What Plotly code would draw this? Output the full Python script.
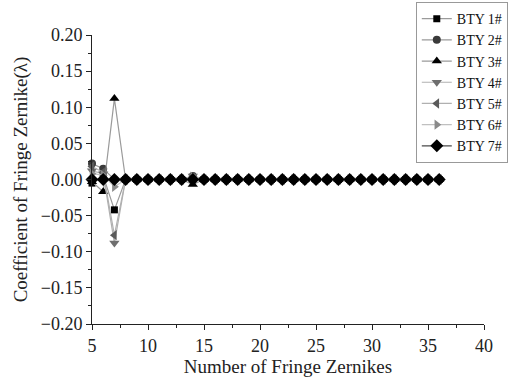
import plotly.graph_objects as go

x = list(range(5, 37))
n = len(x)

def series(head, x14):
    v = [0.0] * n
    for i, val in enumerate(head):
        v[i] = val
    v[14 - 5] = x14
    return v

names = ["BTY 1#", "BTY 2#", "BTY 3#", "BTY 4#", "BTY 5#", "BTY 6#", "BTY 7#"]
bty1 = series([-0.005, 0.005, -0.042], 0.0)
bty2 = series([0.022, 0.015, 0.0], 0.005)
bty3 = series([-0.003, -0.017, 0.112], -0.007)
bty4 = series([0.012, 0.008, -0.088], 0.005)
bty5 = series([0.018, 0.010, -0.077], 0.003)
bty6 = series([0.008, 0.006, -0.010], 0.004)
bty7 = [0.0] * n
values = [bty1, bty2, bty3, bty4, bty5, bty6, bty7]

symbols = ["square", "circle", "triangle-up", "triangle-down", "triangle-left", "triangle-right", "diamond"]
mcolors = ["#000000", "#3a3a3a", "#000000", "#6e6e6e", "#5a5a5a", "#8a8a8a", "#000000"]
msizes = [7, 8, 9, 9, 9, 9, 10]
lcolors = ["#9a9a9a", "#9a9a9a", "#9a9a9a", "#b0b0b0", "#b0b0b0", "#c0c0c0", "#4a4a4a"]

fig = go.Figure()
for nm, v, s, mc, ms, lc in zip(names, values, symbols, mcolors, msizes, lcolors):
    fig.add_trace(go.Scatter(
        x=x, y=v, name=nm, mode="lines+markers", cliponaxis=False,
        line=dict(color=lc, width=1.2),
        marker=dict(symbol=s, color=mc, size=ms, line=dict(width=0)),
    ))

font = "Liberation Serif, Times New Roman, serif"
fig.update_layout(
    width=508, height=381,
    margin=dict(l=92, r=24, t=35, b=57, autoexpand=False),
    paper_bgcolor="white", plot_bgcolor="white",
    font=dict(family=font, size=17, color="#222"),
    legend=dict(
        x=0.826, y=1.114, xanchor="left", yanchor="top",
        bordercolor="#999", borderwidth=1, bgcolor="white",
        font=dict(family=font, size=14, color="#111"),
        tracegroupgap=0, itemwidth=30,
    ),
    xaxis=dict(
        range=[5, 40], tickmode="array", tickvals=[5, 10, 15, 20, 25, 30, 35, 40],
        showline=True, linecolor="#222", linewidth=1, showgrid=False, zeroline=False,
        ticks="outside", ticklen=5, tickcolor="#222",
        minor=dict(ticks="outside", ticklen=3, dtick=2.5, tick0=5, tickcolor="#222"),
        title=dict(text="Number of Fringe Zernikes", standoff=0, font=dict(size=19)),
        tickfont=dict(size=18),
    ),
    yaxis=dict(
        range=[-0.2, 0.2], tickmode="array",
        tickvals=[-0.2, -0.15, -0.1, -0.05, 0, 0.05, 0.1, 0.15, 0.2],
        ticktext=["\u22120.20", "\u22120.15", "\u22120.10", "\u22120.05", "0.00", "0.05", "0.10", "0.15", "0.20"],
        showline=True, linecolor="#222", linewidth=1, showgrid=False, zeroline=False,
        ticks="outside", ticklen=5, tickcolor="#222",
        minor=dict(ticks="outside", ticklen=3, dtick=0.025, tick0=0, tickcolor="#222"),
        title=dict(text="Coefficient of Fringe Zernike(\u03bb)", standoff=8, font=dict(size=19)),
        tickfont=dict(size=18),
    ),
)
fig.write_html("out.html")
